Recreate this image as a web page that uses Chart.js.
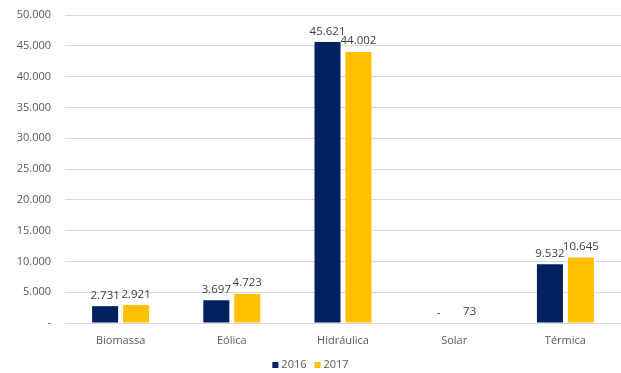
<!DOCTYPE html>
<html>
<head>
<meta charset="utf-8">
<script src="https://cdn.jsdelivr.net/npm/chart.js@4"></script>
<style>
  html, body { margin: 0; padding: 0; background: #fff; }
  #wrap { width: 621px; height: 373px; }
</style>
</head>
<body>
<div id="wrap"><canvas id="grafico"></canvas></div>
<script>
const fontes = ["Biomassa", "Eólica", "Hidráulica", "Solar", "Térmica"];
const valores2016 = [2731, 3697, 45621, 0, 9532];
const valores2017 = [2921, 4723, 44002, 73, 10645];
const marcasY = [0, 5000, 10000, 15000, 20000, 25000, 30000, 35000, 40000, 45000, 50000];

const TEXTO = '#595959';
const FONTE = '"Open Sans"';

// formato 45.621 e "-" para zero
function formatar(v) {
  if (v === 0) return '-';
  return v.toString().replace(/\B(?=(\d{3})+(?!\d))/g, '.');
}

// valores em cima das barras
const rotulos = {
  id: 'rotulos',
  afterDatasetsDraw(chart) {
    const ctx = chart.ctx;
    ctx.save();
    ctx.font = '11.5px ' + FONTE;
    ctx.fillStyle = '#404040';
    ctx.textAlign = 'center';
    ctx.textBaseline = 'bottom';
    chart.data.datasets.forEach((ds, i) => {
      chart.getDatasetMeta(i).data.forEach((bar, j) => {
        ctx.fillText(formatar(ds.data[j]), bar.x, bar.y - 5);
      });
    });
    ctx.restore();
  }
};

// legenda desenhada à mão, centrada embaixo
const legenda = {
  id: 'legenda',
  afterDraw(chart) {
    const ctx = chart.ctx;
    const ds = chart.data.datasets;
    ctx.save();
    ctx.font = '11px ' + FONTE;
    ctx.textBaseline = 'middle';
    const caixa = 6, gap = 3, entre = 8;
    const larguras = ds.map(d => caixa + gap + ctx.measureText(d.label).width);
    const total = larguras.reduce((a, b) => a + b, 0) + entre * (ds.length - 1);
    let x = (chart.width - total) / 2;
    const y = 365;
    ds.forEach((d, i) => {
      ctx.fillStyle = d.backgroundColor;
      ctx.fillRect(x, y - caixa / 2, caixa, caixa);
      ctx.fillStyle = TEXTO;
      ctx.fillText(d.label, x + caixa + gap, y);
      x += larguras[i] + entre;
    });
    ctx.restore();
  }
};

new Chart(document.getElementById('grafico'), {
  type: 'bar',
  data: {
    labels: fontes,
    datasets: [{
      label: '2016',
      data: valores2016,
      backgroundColor: '#002060',
      categoryPercentage: 0.557,
      barPercentage: 0.84
    }, {
      label: '2017',
      data: valores2017,
      backgroundColor: '#FFC000',
      categoryPercentage: 0.557,
      barPercentage: 0.84
    }]
  },
  options: {
    responsive: true,
    maintainAspectRatio: false,
    animation: false,
    layout: { padding: { top: 15, right: 0, left: 0, bottom: 22 } },
    plugins: {
      legend: { display: false },
      tooltip: { enabled: false }
    },
    scales: {
      x: {
        afterFit(scale) { scale.height = 28; },
        grid: { display: false },
        border: { color: '#d9d9d9' },
        ticks: { color: TEXTO, font: { family: 'Open Sans', size: 11 }, padding: 3 }
      },
      y: {
        min: 0,
        max: 50000,
        afterBuildTicks(scale) { scale.ticks = marcasY.map(v => ({ value: v })); },
        afterFit(scale) { scale.width = 65; scale.paddingTop = 0; scale.paddingBottom = 0; },
        grid: { color: '#d9d9d9', drawTicks: false },
        border: { display: false },
        ticks: {
          color: TEXTO,
          font: { family: 'Open Sans', size: 11 },
          padding: 14,
          callback: v => formatar(v)
        }
      }
    }
  },
  plugins: [rotulos, legenda]
});
</script>
</body>
</html>
